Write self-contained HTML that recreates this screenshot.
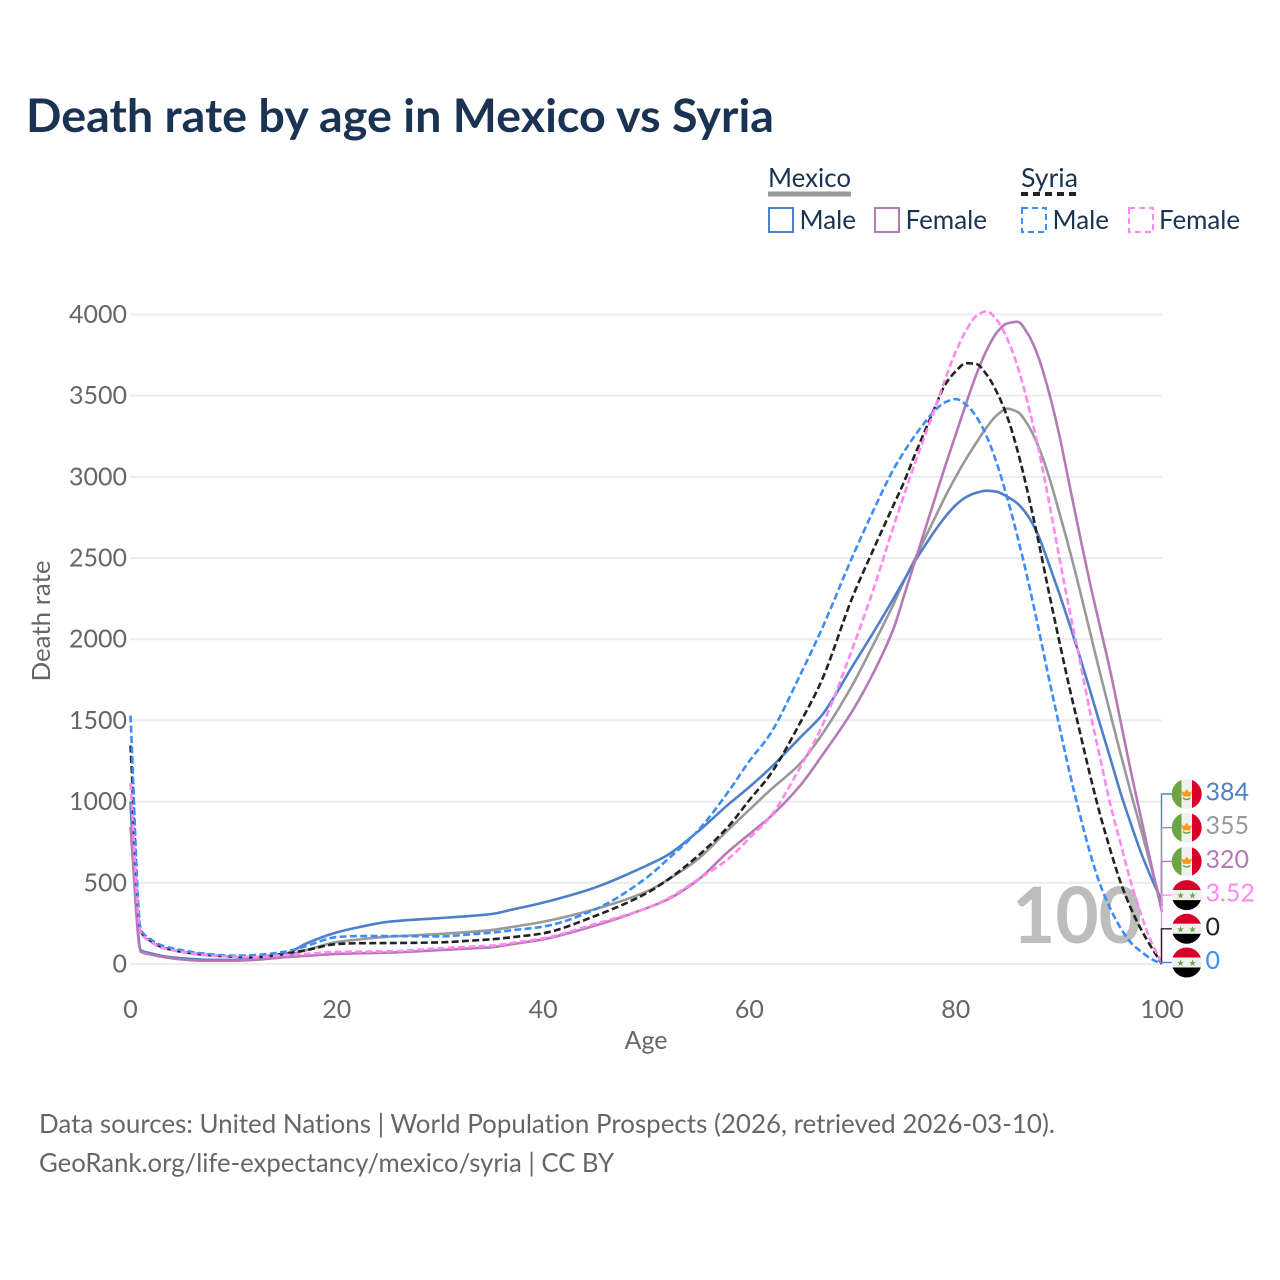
<!DOCTYPE html>
<html lang="en">
<head>
<meta charset="utf-8">
<title>Death rate by age in Mexico vs Syria</title>
<style>
html,body{margin:0;padding:0;background:#fff;}
svg{display:block;font-family:"Lato","Carlito","Liberation Sans",sans-serif;font-variant-ligatures:none;}
</style>
</head>
<body>
<svg id="chart" width="1280" height="1280" viewBox="0 0 1280 1280" xmlns="http://www.w3.org/2000/svg">
  <rect width="1280" height="1280" fill="#fff"/>
  <text x="26" y="132" font-size="46" font-weight="700" fill="#1a3352" textLength="748" lengthAdjust="spacingAndGlyphs">Death rate by age in Mexico vs Syria</text>

  <g font-size="26" fill="#1a3352">
    <text x="768" y="187" textLength="83" lengthAdjust="spacingAndGlyphs">Mexico</text>
    <line x1="768" x2="851" y1="194" y2="194" stroke="#999" stroke-width="5"/>
    <text x="1021" y="187" textLength="57" lengthAdjust="spacingAndGlyphs">Syria</text>
    <line x1="1021" x2="1078" y1="194" y2="194" stroke="#222" stroke-width="4" stroke-dasharray="7 5"/>
    <rect x="769" y="208" width="24" height="24" fill="none" stroke="#4e7fc9" stroke-width="2"/>
    <text x="799.5" y="229" textLength="56.5" lengthAdjust="spacingAndGlyphs">Male</text>
    <rect x="875" y="208" width="24" height="24" fill="none" stroke="#b57ab5" stroke-width="2"/>
    <text x="905.5" y="229" textLength="81.5" lengthAdjust="spacingAndGlyphs">Female</text>
    <rect x="1022" y="208" width="24" height="24" fill="none" stroke="#3e8df7" stroke-width="2" stroke-dasharray="6 4"/>
    <text x="1052.5" y="229" textLength="56.5" lengthAdjust="spacingAndGlyphs">Male</text>
    <rect x="1129" y="208" width="24" height="24" fill="none" stroke="#ff88f0" stroke-width="2" stroke-dasharray="6 4"/>
    <text x="1159" y="229" textLength="81" lengthAdjust="spacingAndGlyphs">Female</text>
  </g>

  <g id="grid"></g>
  <g id="yticks"></g>
  <g id="xticks"></g>
  <text transform="translate(50 621) rotate(-90)" text-anchor="middle" font-size="25" fill="#666" textLength="121" lengthAdjust="spacingAndGlyphs">Death rate</text>
  <text x="646" y="1049" text-anchor="middle" font-size="25" fill="#666" textLength="43" lengthAdjust="spacingAndGlyphs">Age</text>
  <text x="1012" y="943" font-size="78" font-weight="700" fill="#bdbdbd" textLength="130" lengthAdjust="spacingAndGlyphs">100</text>
  <g id="series"></g>
  <g id="ends"></g>

  <text x="39" y="1133" font-size="26" fill="#666" textLength="1016" lengthAdjust="spacingAndGlyphs">Data sources: United Nations | World Population Prospects (2026, retrieved 2026-03-10).</text>
  <text x="39" y="1172" font-size="26" fill="#666" textLength="575" lengthAdjust="spacingAndGlyphs">GeoRank.org/life-expectancy/mexico/syria | CC BY</text>
</svg>
<script>
var ages = [0,1,2,3,5,7,10,12,15,17,20,22,25,30,33,35,37,40,45,50,52,55,58,60,62,65,67,70,72,74,75,76,77,78,79,80,81,82,83,84,85,86,87,88,89,90,91,92,93,94,95,96,97,98,99,100];
var mexicoMale = [1000,85,65,50,35,27,25,32,60,125,195,225,260,283,296,308,335,378,470,605,668,815,985,1090,1205,1400,1530,1835,2040,2254,2365,2475,2575,2670,2755,2826,2875,2902,2915,2908,2878,2835,2760,2640,2470,2290,2100,1900,1690,1475,1265,1050,860,680,525,384];
var mexicoAll = [973,78,60,47,32,24,23,28,50,85,135,150,168,185,198,209,228,260,337,445,515,645,830,950,1070,1240,1410,1720,1965,2220,2360,2490,2620,2750,2880,3000,3110,3210,3305,3380,3420,3400,3320,3190,3010,2790,2560,2310,2050,1790,1540,1290,1050,820,585,355];
var mexicoFemale = [844,75,58,45,28,20,20,25,42,50,62,66,70,86,96,103,122,152,236,343,395,517,695,800,905,1105,1280,1560,1790,2070,2270,2470,2670,2870,3070,3260,3450,3630,3780,3890,3945,3955,3880,3740,3530,3270,2960,2650,2350,2075,1800,1490,1180,890,600,320];
var syriaAll = [1345,200,140,105,75,58,45,42,65,85,123,128,129,133,144,152,165,189,295,435,515,665,850,1010,1165,1495,1745,2260,2550,2830,2970,3130,3280,3430,3570,3650,3700,3695,3630,3520,3370,3160,2900,2610,2300,2000,1710,1440,1170,920,700,500,340,210,100,0];
var syriaMale = [1530,210,150,115,85,65,51,55,76,110,166,172,172,170,183,193,208,230,335,530,640,820,1065,1250,1415,1790,2060,2510,2790,3050,3155,3250,3335,3410,3460,3479,3445,3370,3250,3080,2870,2630,2365,2075,1770,1480,1190,930,690,490,340,220,130,75,30,0];
var syriaFemale = [1114,190,135,100,75,55,45,42,55,62,74,76,78,97,107,113,130,158,246,343,400,520,650,775,905,1220,1460,1945,2303,2700,2890,3075,3250,3425,3605,3770,3900,3990,4020,3965,3850,3680,3450,3180,2860,2520,2190,1880,1560,1270,980,740,500,300,130,3.52];
var yTickValues = [0,500,1000,1500,2000,2500,3000,3500,4000];
var xTickValues = [0,20,40,60,80,100];
var endLabels = ['384','355','320','3.52','0','0'];

var NS = 'http://www.w3.org/2000/svg';
function xScale(a){ return 130.5 + a * 10.315; }
function yScale(v){ return 964 - v * 0.16238; }
function make(tag, parent, attrs){
  var el = document.createElementNS(NS, tag);
  for (var k in attrs) el.setAttribute(k, attrs[k]);
  parent.appendChild(el);
  return el;
}
function monotonePath(px, py){
  var n = px.length, d = [], m = [], i;
  for (i = 0; i < n - 1; i++) d[i] = (py[i+1] - py[i]) / (px[i+1] - px[i]);
  m[0] = d[0]; m[n-1] = d[n-2];
  for (i = 1; i < n - 1; i++) {
    if (d[i-1] * d[i] <= 0) { m[i] = 0; }
    else {
      var h0 = px[i] - px[i-1], h1 = px[i+1] - px[i];
      m[i] = 3 * (h0 + h1) / ((2*h1 + h0) / d[i-1] + (h1 + 2*h0) / d[i]);
    }
  }
  var s = 'M' + px[0].toFixed(2) + ' ' + py[0].toFixed(2);
  for (i = 0; i < n - 1; i++) {
    var h = (px[i+1] - px[i]) / 3;
    s += 'C' + (px[i]+h).toFixed(2) + ' ' + (py[i]+m[i]*h).toFixed(2) + ' ' +
         (px[i+1]-h).toFixed(2) + ' ' + (py[i+1]-m[i+1]*h).toFixed(2) + ' ' +
         px[i+1].toFixed(2) + ' ' + py[i+1].toFixed(2);
  }
  return s;
}

var gridGroup = document.getElementById('grid');
var yGroup = document.getElementById('yticks');
yTickValues.forEach(function(v){
  var ln = make('line', gridGroup, {x1:130, x2:1162, y1:yScale(v), y2:yScale(v), stroke:'#ececec', 'stroke-width':2});
  
  
  var t = make('text', yGroup, {x:127, y:yScale(v)+8.5, 'text-anchor':'end', 'font-size':25, fill:'#666'});
  
  
  t.textContent = v;
});
var xGroup = document.getElementById('xticks');
xTickValues.forEach(function(v){
  var t = make('text', xGroup, {x:xScale(v), y:1018, 'text-anchor':'middle', 'font-size':25, fill:'#666'});
  
  
  t.textContent = v;
});

var seriesGroup = document.getElementById('series');
function drawSeries(name, values, color, dash){
  var attrs = {d:monotonePath(ages.map(xScale), values.map(yScale)), fill:'none', stroke:color, 'stroke-width':2.6, 'stroke-linejoin':'round'};
  if (dash) attrs['stroke-dasharray'] = dash;
  var p = make('path', seriesGroup, attrs);
  
  
}
drawSeries('line-mexico-all', mexicoAll, '#999999');
drawSeries('line-mexico-male', mexicoMale, '#4e7fc9');
drawSeries('line-mexico-female', mexicoFemale, '#b57ab5');
drawSeries('line-syria-all', syriaAll, '#222222', '7 3.3');
drawSeries('line-syria-male', syriaMale, '#3e8df7', '7 3.3');
drawSeries('line-syria-female', syriaFemale, '#ff88f0', '7 3.3');

var endGroup = document.getElementById('ends');
var clipDefs = make('defs', endGroup, {});
function drawEnd(index, name, lastValue, color, country){
  var cy = 794 + index * 33.7;
  var ey = yScale(lastValue);
  var leader = make('path', endGroup, {d:'M1161.5 ' + ey.toFixed(1) + 'V' + cy.toFixed(1) + 'H1172', fill:'none', stroke:color, 'stroke-width':1.4});
  
  

  var cid = 'flag-clip-' + index;
  var cp = make('clipPath', clipDefs, {id:cid});
  make('circle', cp, {cx:1186.7, cy:cy, r:15});
  var flag = make('g', endGroup, {'clip-path':'url(#' + cid + ')'});
  
  
  if (country === 'mexico') {
    make('rect', flag, {x:1171, y:cy-16, width:11, height:32, fill:'#6da544'});
    make('rect', flag, {x:1181.5, y:cy-16, width:10.5, height:32, fill:'#f0f0f0'});
    make('rect', flag, {x:1192, y:cy-16, width:11, height:32, fill:'#d80027'});
    make('path', flag, {d:'M1181.2 ' + (cy-3) + 'l3 1.5 2.5-3.5 2.5 3.5 3-1.5-2 5.5h-7z', fill:'#ff9811'});
    make('path', flag, {d:'M1183 ' + (cy+4) + 'q3.7 3 7.4 0', fill:'none', stroke:'#6da544', 'stroke-width':1.5});
  } else {
    make('rect', flag, {x:1171, y:cy-16, width:32, height:11, fill:'#d80027'});
    make('rect', flag, {x:1171, y:cy-5, width:32, height:10, fill:'#f0f0f0'});
    make('rect', flag, {x:1171, y:cy+5, width:32, height:11, fill:'#000'});
    make('text', flag, {x:1180.5, y:cy+3.5, 'text-anchor':'middle', 'font-size':9, fill:'#6da544'}).textContent = '\u2605';
    make('text', flag, {x:1192.5, y:cy+3.5, 'text-anchor':'middle', 'font-size':9, fill:'#6da544'}).textContent = '\u2605';
  }
  var t = make('text', endGroup, {x:1205.5, y:cy+6.5, 'font-size':25, fill:color});
  
  
  t.textContent = endLabels[index];
}
drawEnd(0, 'mexico-male', mexicoMale[mexicoMale.length-1], '#4e7fc9', 'mexico');
drawEnd(1, 'mexico-all', mexicoAll[mexicoAll.length-1], '#999999', 'mexico');
drawEnd(2, 'mexico-female', mexicoFemale[mexicoFemale.length-1], '#b57ab5', 'mexico');
drawEnd(3, 'syria-female', syriaFemale[syriaFemale.length-1], '#ff88f0', 'syria');
drawEnd(4, 'syria-all', syriaAll[syriaAll.length-1], '#222222', 'syria');
drawEnd(5, 'syria-male', syriaMale[syriaMale.length-1], '#3e8df7', 'syria');
</script>
</body>
</html>
